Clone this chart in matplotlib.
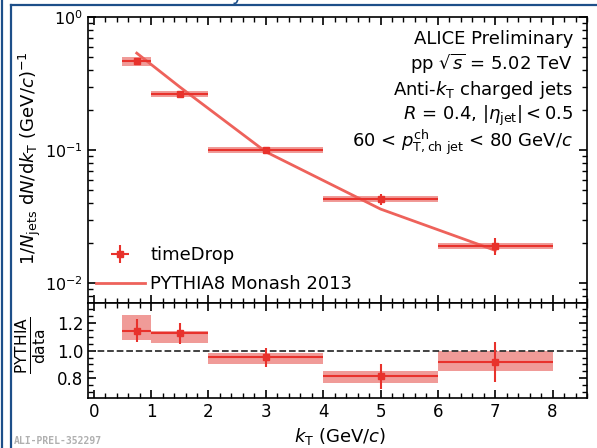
import numpy as np
import matplotlib
matplotlib.use('Agg')
import matplotlib.pyplot as plt
from matplotlib.lines import Line2D
from matplotlib.ticker import MultipleLocator, LogLocator, NullFormatter

plt.rcParams['mathtext.fontset'] = 'dejavusans'
plt.rcParams['font.family'] = 'DejaVu Sans'

# kT bins (GeV/c)
bin_lo = np.array([0.5, 1.0, 2.0, 4.0, 6.0])
bin_hi = np.array([1.0, 2.0, 4.0, 6.0, 8.0])

# timeDrop data: 1/Njets dN/dkT
data_y = np.array([0.467, 0.264, 0.100, 0.0428, 0.0190])
data_stat = np.array([0.03, 0.03, 0.05, 0.10, 0.15])   # relative
data_syst = np.array([0.08, 0.05, 0.05, 0.05, 0.05])   # relative

# PYTHIA8 Monash 2013 at bin centres
pythia_y = np.array([0.535, 0.298, 0.097, 0.036, 0.0176])

# ratio PYTHIA/data
ratio_y = np.array([1.143, 1.128, 0.954, 0.817, 0.918])
ratio_box_lo = np.array([1.075, 1.054, 0.900, 0.768, 0.855])
ratio_box_hi = np.array([1.260, 1.145, 0.985, 0.853, 1.000])
ratio_err_lo = np.array([1.060, 1.050, 0.885, 0.720, 0.775])
ratio_err_hi = np.array([1.230, 1.200, 1.020, 0.904, 1.065])

info_lines = ['ALICE Preliminary',
              r'pp $\sqrt{s}$ = 5.02 TeV',
              r'Anti-$k_{\rm T}$ charged jets',
              r'$R$ = 0.4, $|\eta_{\rm jet}| < 0.5$',
              r'60 < $p_{\rm T,ch\ jet}^{\rm ch}$ < 80 GeV$/c$']

red = '#e8322c'
box_col = '#ee8a86'
line_col = '#ee625b'

centres = 0.5 * (bin_lo + bin_hi)
half = 0.5 * (bin_hi - bin_lo)

fig = plt.figure(figsize=(5.97, 4.48), dpi=100)
W, H = 597.0, 448.0
ax = fig.add_axes([88 / W, 1 - 303 / H, (587 - 88) / W, (303 - 17) / H])
axr = fig.add_axes([88 / W, 1 - 398 / H, (587 - 88) / W, (398 - 303) / H])

# top panel
for i in range(len(centres)):
    ax.fill_between([bin_lo[i], bin_hi[i]],
                    data_y[i] * (1 - data_syst[i]), data_y[i] * (1 + data_syst[i]),
                    color=box_col, alpha=0.85, lw=0, zorder=1)
eb = ax.errorbar(centres, data_y, xerr=half, yerr=data_y * data_stat, fmt='s', color=red,
                 ms=5, elinewidth=1.5, capsize=0, zorder=3, label='timeDrop')
ln, = ax.plot(centres, pythia_y, color=line_col, lw=2, zorder=2, label='PYTHIA8 Monash 2013')

ax.set_yscale('log')
ax.set_ylim(10 ** -2.15, 1)
ax.set_xlim(-0.1, 8.6)
ax.xaxis.set_major_locator(MultipleLocator(1))
ax.xaxis.set_minor_locator(MultipleLocator(0.2))
ax.yaxis.set_minor_locator(LogLocator(base=10, subs=np.arange(2, 10)))
ax.yaxis.set_minor_formatter(NullFormatter())
ax.tick_params(which='both', direction='in', top=True, right=True, labelsize=11.5)
ax.tick_params(which='major', length=6, width=1.2)
ax.tick_params(which='minor', length=3.5, width=1)
ax.tick_params(axis='x', labelbottom=False)

ax.legend([eb, ln], ['timeDrop', 'PYTHIA8 Monash 2013'], loc='lower left', fontsize=13,
          frameon=False, handlelength=2.7, handletextpad=0.3, borderpad=0, borderaxespad=0,
          labelspacing=0.6, bbox_to_anchor=(0.016, 0.035))

# info text, one line each (baselines in pixels from top)
for txt, yb in zip(info_lines, [44, 70, 95, 120, 147]):
    fig.text(573 / W, 1 - yb / H, txt, ha='right', va='baseline', fontsize=13)

# ratio panel
for i in range(len(centres)):
    axr.fill_between([bin_lo[i], bin_hi[i]], ratio_box_lo[i], ratio_box_hi[i],
                     color=box_col, alpha=0.85, lw=0, zorder=1)
axr.errorbar(centres, ratio_y, xerr=half,
             yerr=[ratio_y - ratio_err_lo, ratio_err_hi - ratio_y],
             fmt='s', color=red, ms=5, elinewidth=1.5, capsize=0, zorder=3)
axr.axhline(1.0, color='#333333', ls='--', lw=1.3, zorder=2)
axr.set_xlim(-0.1, 8.6)
axr.set_ylim(0.657, 1.345)
axr.xaxis.set_major_locator(MultipleLocator(1))
axr.xaxis.set_minor_locator(MultipleLocator(0.2))
axr.yaxis.set_minor_locator(MultipleLocator(0.05))
axr.tick_params(which='both', direction='in', top=True, right=True, labelsize=12)
axr.tick_params(which='major', length=6, width=1.2)
axr.tick_params(which='minor', length=3.5, width=1)
axr.set_yticks([0.8, 1.0, 1.2])
axr.set_yticklabels(['0.8', '1.0', '1.2'])

for a in (ax, axr):
    for s in a.spines.values():
        s.set_linewidth(1.2)

fig.text(30 / W, 1 - 158 / H,
         r'$1/N_{\rm jets}\ {\rm d}N/{\rm d}k_{\rm T}$ (GeV$/c$)$^{-1}$',
         rotation=90, ha='center', va='center', fontsize=13)
fig.text(31 / W, 1 - 345 / H, r'$\frac{\rm PYTHIA}{\rm data}$',
         rotation=90, ha='center', va='center', fontsize=16)
fig.text(340 / W, 1 - 436 / H, r'$k_{\rm T}$ (GeV$/c$)', ha='center', va='center', fontsize=13)
fig.text(14 / W, 1 - 441 / H, 'ALI-PREL-352297', ha='left', va='center', fontsize=7,
         family='DejaVu Sans Mono', fontweight='bold', color='#b0b0b0')

# slide frame
blue = '#1d4f89'
fig.add_artist(Line2D([1.5 / W, 1.5 / W], [0, 1], transform=fig.transFigure, color=blue, lw=1.6))
fig.add_artist(Line2D([10.5 / W, 10.5 / W], [0, 1 - 5 / H], transform=fig.transFigure, color=blue, lw=1.6))
fig.add_artist(Line2D([10.5 / W, 1], [1 - 5 / H, 1 - 5 / H], transform=fig.transFigure, color=blue, lw=1.6))
fig.text(237 / W, 1.0, 'y', ha='center', va='baseline', fontsize=14, color=blue)

fig.savefig('out.png', dpi=100)
